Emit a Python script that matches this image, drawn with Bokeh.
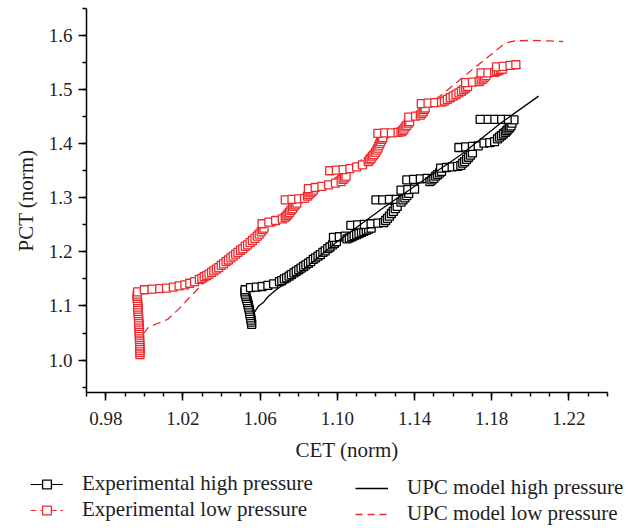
from bokeh.plotting import figure
from bokeh.models import FixedTicker, Legend, LegendItem
from bokeh.layouts import column
from bokeh.embed import file_html
from bokeh.resources import INLINE

# ---------------- data ----------------
x_major = [0.98, 1.02, 1.06, 1.10, 1.14, 1.18, 1.22]
x_minor = [0.97, 0.98, 0.99, 1.00, 1.01, 1.02, 1.03, 1.04, 1.05, 1.06, 1.07, 1.08, 1.09,
           1.10, 1.11, 1.12, 1.13, 1.14, 1.15, 1.16, 1.17, 1.18, 1.19, 1.20, 1.21, 1.22,
           1.23, 1.24]
y_major = [1.0, 1.1, 1.2, 1.3, 1.4, 1.5, 1.6]
y_minor = [0.95, 1.0, 1.05, 1.1, 1.15, 1.2, 1.25, 1.3, 1.35, 1.4, 1.45, 1.5, 1.55, 1.6, 1.65]
x_labels = {0.98: "0.98", 1.02: "1.02", 1.06: "1.06", 1.10: "1.10", 1.14: "1.14",
            1.18: "1.18", 1.22: "1.22"}
y_labels = {1.0: "1.0", 1.1: "1.1", 1.2: "1.2", 1.3: "1.3", 1.4: "1.4", 1.5: "1.5", 1.6: "1.6"}

# Experimental high pressure (black squares)
exp_high_x = [1.0556, 1.0555, 1.0553, 1.0551, 1.0549, 1.0547, 1.0545, 1.0543, 1.0540, 1.0538,
              1.0535, 1.0532, 1.0529, 1.0526, 1.0523, 1.0521, 1.0522,
              1.0550, 1.0580, 1.0610, 1.0640, 1.0670, 1.0700,
              1.0712, 1.0725, 1.0737, 1.0750, 1.0762, 1.0775, 1.0787, 1.0800, 1.0812, 1.0825,
              1.0837, 1.0850, 1.0862, 1.0875, 1.0887, 1.0900, 1.0912, 1.0925, 1.0937, 1.0950,
              1.0962, 1.0975, 1.0985, 1.0995,
              1.0980, 1.1010, 1.1040,
              1.1050, 1.1062, 1.1075, 1.1087, 1.1100, 1.1112, 1.1125, 1.1137, 1.1150, 1.1162,
              1.1175,
              1.1070, 1.1105, 1.1140, 1.1175, 1.1210, 1.1240,
              1.1250, 1.1260, 1.1270, 1.1280, 1.1290, 1.1300, 1.1310,
              1.1200, 1.1235, 1.1270, 1.1305,
              1.1330, 1.1340, 1.1350, 1.1360, 1.1370,
              1.1330, 1.1365, 1.1400,
              1.1360, 1.1395, 1.1430, 1.1465,
              1.1480, 1.1490, 1.1500, 1.1510, 1.1520, 1.1530, 1.1540,
              1.1535, 1.1565, 1.1595, 1.1623,
              1.1640, 1.1650, 1.1660, 1.1670, 1.1680, 1.1690, 1.1700,
              1.1630, 1.1665, 1.1700, 1.1730,
              1.1760, 1.1790, 1.1815,
              1.1830, 1.1840, 1.1850, 1.1860, 1.1870, 1.1878, 1.1885, 1.1893, 1.1900, 1.1905,
              1.1915, 1.1880, 1.1845, 1.1810, 1.1775, 1.1740]
exp_high_y = [1.066, 1.070, 1.074, 1.078, 1.082, 1.086, 1.090, 1.094, 1.098, 1.102,
              1.106, 1.110, 1.114, 1.118, 1.122, 1.126, 1.130,
              1.134, 1.135, 1.136, 1.138, 1.141, 1.145,
              1.147, 1.150, 1.152, 1.155, 1.158, 1.161, 1.164, 1.167, 1.170, 1.173,
              1.176, 1.179, 1.182, 1.186, 1.189, 1.192, 1.195, 1.199, 1.202, 1.206,
              1.209, 1.213, 1.216, 1.219,
              1.227, 1.228, 1.229,
              1.224, 1.226, 1.228, 1.230, 1.232, 1.234, 1.236, 1.238, 1.240, 1.242,
              1.244,
              1.249, 1.250, 1.251, 1.252, 1.253, 1.254,
              1.258, 1.262, 1.266, 1.271, 1.275, 1.280, 1.284,
              1.296, 1.296, 1.297, 1.297,
              1.292, 1.296, 1.300, 1.304, 1.308,
              1.314, 1.315, 1.316,
              1.333, 1.334, 1.335, 1.336,
              1.330, 1.333, 1.336, 1.340, 1.343, 1.346, 1.349,
              1.355, 1.356, 1.357, 1.358,
              1.360, 1.364, 1.367, 1.371, 1.375, 1.379, 1.383,
              1.393, 1.394, 1.395, 1.396,
              1.401, 1.402, 1.404,
              1.409, 1.412, 1.415, 1.418, 1.421, 1.424, 1.427, 1.430, 1.433, 1.438,
              1.444, 1.445, 1.445, 1.445, 1.445, 1.445]

# Experimental low pressure (red squares); last value is the end of the connecting line
exp_low_x = [0.9977, 0.9977, 0.9977, 0.9976, 0.9976, 0.9976, 0.9975, 0.9975, 0.9975, 0.9974,
             0.9974, 0.9973, 0.9973, 0.9972, 0.9972, 0.9971, 0.9970, 0.9970, 0.9969, 0.9968,
             0.9968, 0.9967, 0.9966, 0.9965, 0.9965, 0.9964, 0.9963, 0.9963, 0.9963, 0.9965,
             1.0000, 1.0040, 1.0080, 1.0115, 1.0150, 1.0180, 1.0210, 1.0235, 1.0260,
             1.0285, 1.0298, 1.0310, 1.0323, 1.0335, 1.0348, 1.0360, 1.0373, 1.0385, 1.0398,
             1.0410, 1.0423, 1.0435, 1.0448, 1.0460, 1.0473, 1.0485, 1.0498, 1.0510, 1.0523,
             1.0535, 1.0548, 1.0560, 1.0573, 1.0585, 1.0595, 1.0605, 1.0613, 1.0620,
             1.0610, 1.0645, 1.0680, 1.0715,
             1.0730, 1.0738, 1.0745, 1.0752, 1.0760, 1.0768, 1.0775, 1.0782, 1.0790,
             1.0730, 1.0765, 1.0800, 1.0830,
             1.0845, 1.0852, 1.0860, 1.0868, 1.0875,
             1.0850, 1.0885, 1.0920, 1.0955, 1.0990, 1.1020,
             1.1030, 1.1038, 1.1045,
             1.0960, 1.0995, 1.1030, 1.1065, 1.1100, 1.1130, 1.1160,
             1.1168, 1.1175, 1.1182, 1.1190, 1.1198, 1.1205, 1.1210, 1.1215, 1.1220, 1.1225,
             1.1230, 1.1235,
             1.1210, 1.1245, 1.1280, 1.1315, 1.1330,
             1.1338, 1.1345, 1.1352, 1.1360, 1.1368, 1.1375,
             1.1370, 1.1405, 1.1430,
             1.1438, 1.1445, 1.1450, 1.1455,
             1.1435, 1.1470, 1.1505, 1.1540,
             1.1555, 1.1570, 1.1585, 1.1600, 1.1615, 1.1630, 1.1643, 1.1655, 1.1665, 1.1675,
             1.1665, 1.1700, 1.1735,
             1.1745, 1.1755, 1.1762, 1.1770,
             1.1745, 1.1780, 1.1815,
             1.1825, 1.1835, 1.1845, 1.1855,
             1.1825, 1.1860, 1.1895, 1.1925,
             1.1950]
exp_low_y = [1.010, 1.014, 1.018, 1.022, 1.026, 1.030, 1.034, 1.038, 1.042, 1.046,
             1.050, 1.054, 1.058, 1.062, 1.066, 1.070, 1.074, 1.078, 1.082, 1.086,
             1.090, 1.094, 1.098, 1.102, 1.106, 1.110, 1.114, 1.118, 1.122, 1.126,
             1.130, 1.131, 1.132, 1.133, 1.135, 1.137, 1.139, 1.142, 1.145,
             1.149, 1.151, 1.154, 1.156, 1.159, 1.162, 1.165, 1.168, 1.171, 1.175,
             1.178, 1.182, 1.185, 1.189, 1.192, 1.196, 1.199, 1.203, 1.206, 1.210,
             1.213, 1.217, 1.221, 1.225, 1.229, 1.233, 1.237, 1.241, 1.244,
             1.252, 1.255, 1.258, 1.261,
             1.264, 1.267, 1.270, 1.273, 1.277, 1.280, 1.284, 1.287, 1.290,
             1.296, 1.297, 1.298, 1.299,
             1.303, 1.306, 1.309, 1.311, 1.314,
             1.317, 1.319, 1.321, 1.324, 1.327, 1.330,
             1.334, 1.337, 1.340,
             1.350, 1.351, 1.352, 1.354, 1.357, 1.361, 1.367,
             1.370, 1.373, 1.377, 1.380, 1.384, 1.388, 1.392, 1.396, 1.400, 1.404,
             1.408, 1.411,
             1.419, 1.420, 1.420, 1.421, 1.422,
             1.424, 1.427, 1.431, 1.434, 1.438, 1.441,
             1.449, 1.451, 1.453,
             1.456, 1.459, 1.463, 1.466,
             1.474, 1.475, 1.476, 1.477,
             1.479, 1.482, 1.485, 1.488, 1.491, 1.494, 1.497, 1.500, 1.503, 1.506,
             1.513, 1.514, 1.515,
             1.518, 1.520, 1.523, 1.526,
             1.531, 1.531, 1.532,
             1.534, 1.535, 1.537, 1.538,
             1.542, 1.543, 1.545, 1.546,
             1.539]

# UPC model high pressure (solid black line)
upc_high_x = [1.0566, 1.0592, 1.0618, 1.0643, 1.0680, 1.0810, 1.0985, 1.1224, 1.1395,
              1.1639, 1.1846, 1.2043]
upc_high_y = [1.086, 1.100, 1.107, 1.118, 1.129, 1.163, 1.215, 1.278, 1.320,
              1.379, 1.438, 1.488]

# UPC model low pressure (dashed red line)
upc_low_x = [0.9995, 1.0020, 1.0070, 1.0120, 1.0180, 1.0240, 1.0300, 1.0400, 1.0500,
             1.0600, 1.0700, 1.0800, 1.0900, 1.1000, 1.1100, 1.1200, 1.1300, 1.1400,
             1.1500, 1.1550, 1.1600, 1.1700, 1.1800, 1.1870, 1.1920, 1.2000, 1.2100, 1.2170]
upc_low_y = [1.049, 1.060, 1.068, 1.075, 1.095, 1.118, 1.140, 1.170, 1.200,
             1.232, 1.254, 1.285, 1.312, 1.340, 1.362, 1.395, 1.420, 1.455,
             1.480, 1.493, 1.508, 1.537, 1.566, 1.586, 1.590, 1.591, 1.590, 1.589]

legend_labels = ["Experimental high pressure", "Experimental low pressure",
                 "UPC model high pressure", "UPC model low pressure"]

RED = "#ec2a2e"
FONT = "Liberation Serif"
TXT = "#1e1e1e"

p = figure(frame_width=521, frame_height=384, x_range=(0.97, 1.24), y_range=(0.94, 1.65),
           output_backend="svg", toolbar_location=None,
           min_border_left=86, min_border_right=27, min_border_top=8, min_border_bottom=78)
p.frame_align = False
p.outline_line_color = None
p.xgrid.visible = False
p.ygrid.visible = False

p.line(upc_low_x, upc_low_y, line_color=RED, line_width=1.3, line_dash="8 5")
p.line(exp_low_x, exp_low_y, line_color=RED, line_width=1.2, line_dash="6 4")
p.scatter(exp_low_x[:-1], exp_low_y[:-1], marker="square", size=8,
          line_color=RED, line_width=1.3, fill_color="white")
p.line(exp_high_x, exp_high_y, line_color="black", line_width=1.2)
p.scatter(exp_high_x, exp_high_y, marker="square", size=8,
          line_color="black", line_width=1.3, fill_color="white")
p.line(upc_high_x, upc_high_y, line_color="black", line_width=1.3)

for ax in (p.xaxis[0], p.yaxis[0]):
    ax.axis_line_width = 1.5
    ax.major_tick_line_width = 1.5
    ax.minor_tick_line_width = 1.5
    ax.major_tick_in = 0
    ax.major_tick_out = 8
    ax.minor_tick_in = 0
    ax.minor_tick_out = 4
    ax.major_label_text_font = FONT
    ax.major_label_text_font_size = "19px"
    ax.axis_label_text_font = FONT
    ax.axis_label_text_font_size = "21px"
    ax.axis_label_text_font_style = "normal"
    ax.major_label_text_color = TXT
    ax.axis_label_text_color = TXT

p.xaxis.ticker = FixedTicker(ticks=x_major, minor_ticks=x_minor)
p.yaxis.ticker = FixedTicker(ticks=y_major, minor_ticks=y_minor)
p.xaxis.major_label_overrides = x_labels
p.yaxis.major_label_overrides = y_labels
p.xaxis.axis_label = "CET (norm)"
p.yaxis.axis_label = "PCT (norm)"
p.xaxis.major_label_standoff = 11
p.yaxis.major_label_standoff = 6
p.xaxis.axis_label_standoff = 10
p.yaxis.axis_label_standoff = 8

# ---------------- legend strip ----------------
lg = figure(width=634, height=58, x_range=(0, 1), y_range=(0, 1), output_backend="svg",
            toolbar_location=None, x_axis_type=None, y_axis_type=None,
            min_border_left=0, min_border_right=0, min_border_top=0, min_border_bottom=0)
lg.frame_align = False
lg.outline_line_color = None
lg.xgrid.visible = False
lg.ygrid.visible = False
# proxy renderers for the legend keys (their single point lies outside this strip's ranges)
hx, hy = exp_high_x[:1], exp_high_y[:1]
lh_line = lg.line(hx, hy, line_color="black", line_width=1.2)
lh_pts = lg.scatter(hx, hy, marker="square", size=8, line_color="black", line_width=1.3,
                    fill_color="white")
ll_line = lg.line(hx, hy, line_color=RED, line_width=1.2, line_dash="6 4")
ll_pts = lg.scatter(hx, hy, marker="square", size=8, line_color=RED, line_width=1.3,
                    fill_color="white")
uh_line = lg.line(hx, hy, line_color="black", line_width=1.3)
ul_line = lg.line(hx, hy, line_color=RED, line_width=1.3, line_dash="7 5")


def make_legend(items, loc):
    return Legend(items=items, location=loc, orientation="vertical",
                  label_text_font=FONT, label_text_font_size="21px",
                  label_text_color=TXT,
                  glyph_width=33, glyph_height=22, label_height=22, label_standoff=19,
                  spacing=1, padding=0, margin=0, border_line_color=None,
                  background_fill_alpha=0)


leg1 = make_legend([
    LegendItem(label=legend_labels[0], renderers=[lh_line, lh_pts]),
    LegendItem(label=legend_labels[1], renderers=[ll_line, ll_pts]),
], (30, 6))
leg2 = make_legend([
    LegendItem(label=legend_labels[2], renderers=[uh_line]),
    LegendItem(label=legend_labels[3], renderers=[ul_line]),
], (355, 2))
lg.add_layout(leg1, "center")
lg.add_layout(leg2, "center")

open("out.html", "w").write(file_html(column(p, lg, spacing=0), INLINE))
